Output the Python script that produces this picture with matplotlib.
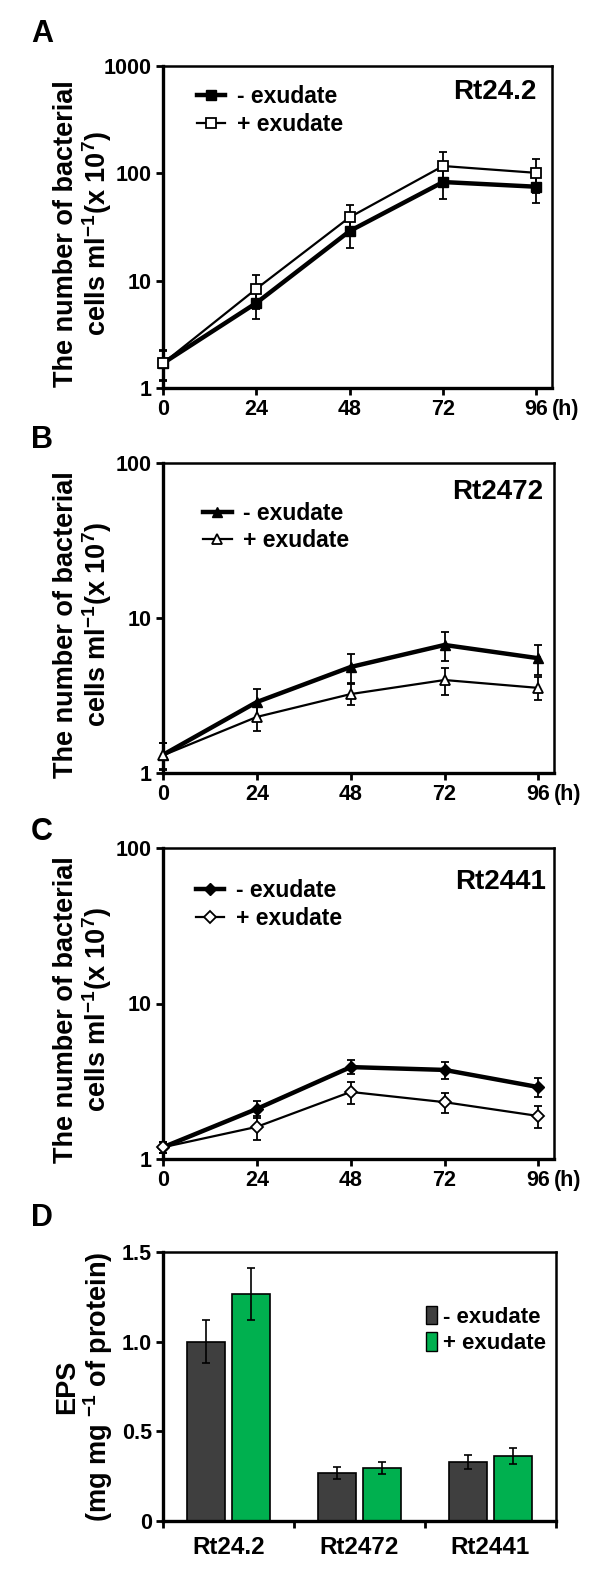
import numpy as np
import matplotlib
matplotlib.use("Agg")
import matplotlib.pyplot as plt
from matplotlib.patches import Patch
from matplotlib.ticker import NullLocator, FixedLocator

plt.rcParams['font.family'] = ['Liberation Sans', 'DejaVu Sans']
plt.rcParams['font.weight'] = 'bold'
plt.rcParams['mathtext.fontset'] = 'custom'
plt.rcParams['mathtext.rm'] = 'Liberation Sans:bold'
plt.rcParams['mathtext.bf'] = 'Liberation Sans:bold'
plt.rcParams['mathtext.default'] = 'bf'

# Χρόνοι μέτρησης (h)
hours = [0, 24, 48, 72, 96]
hour_labels = ['0', '24', '48', '72', '96']

# Rt24.2
rt242_minus = [1.7, 6.2, 29, 83, 75]
rt242_minus_err = [0.5, 1.8, 9, 25, 22]
rt242_plus = [1.7, 8.4, 39, 117, 101]
rt242_plus_err = [0.55, 2.9, 12, 41, 35]

# Rt2472
rt2472_minus = [1.31, 2.87, 4.83, 6.7, 5.5]
rt2472_minus_err = [0.25, 0.6, 1.0, 1.4, 1.2]
rt2472_plus = [1.3, 2.3, 3.23, 3.98, 3.54]
rt2472_plus_err = [0.25, 0.43, 0.5, 0.8, 0.6]

# Rt2441
rt2441_minus = [1.19, 2.1, 3.9, 3.74, 2.9]
rt2441_minus_err = [0.1, 0.27, 0.4, 0.45, 0.4]
rt2441_plus = [1.19, 1.61, 2.7, 2.32, 1.89]
rt2441_plus_err = [0.1, 0.28, 0.45, 0.34, 0.3]

# EPS
strains = ['Rt24.2', 'Rt2472', 'Rt2441']
eps_minus = [1.0, 0.268, 0.329]
eps_minus_err = [0.12, 0.033, 0.04]
eps_plus = [1.266, 0.296, 0.362]
eps_plus_err = [0.145, 0.034, 0.043]

ylab = 'The number of bacterial\ncells ml$^{-1}$(x 10$^{7}$)'
W, H = 600, 1576


def box(l, r, t, b):
    return [l / W, 1 - b / H, (r - l) / W, (b - t) / H]


def style_axes(ax):
    for s in ax.spines.values():
        s.set_linewidth(1.8)
    ax.spines['left'].set_linewidth(2.4)
    ax.spines['bottom'].set_linewidth(2.4)
    ax.tick_params(direction='out', length=5, width=2, labelsize=15.5, pad=3)


def growth_panel(ax, minus, minus_err, plus, plus_err, marker, ms, ymax, name,
                 name_xy, leg_xy):
    e1 = ax.errorbar(hours, minus, yerr=minus_err, color='black', lw=3.2,
                     marker=marker, ms=ms, mfc='black', mec='black',
                     capsize=3, elinewidth=1.3, capthick=1.3, clip_on=False, zorder=3)
    e2 = ax.errorbar(hours, plus, yerr=plus_err, color='black', lw=1.6,
                     marker=marker, ms=ms, mfc='white', mec='black', mew=1.3,
                     capsize=3, elinewidth=1.3, capthick=1.3, clip_on=False, zorder=4)
    ax.set_yscale('log')
    ax.set_ylim(1, ymax)
    ax.set_xlim(0, 100)
    ax.set_xticks(hours)
    ax.set_xticklabels(hour_labels)
    dec = [10 ** i for i in range(int(np.log10(ymax)) + 1)]
    ax.yaxis.set_major_locator(FixedLocator(dec))
    ax.yaxis.set_minor_locator(NullLocator())
    ax.set_yticklabels([str(d) for d in dec])
    style_axes(ax)
    ax.annotate('(h)', xy=(96, 0), xycoords=('data', 'axes fraction'),
                xytext=(11, -8), textcoords='offset points', ha='left', va='top',
                fontsize=15.5, fontweight='bold')
    ax.set_ylabel(ylab, fontsize=19.5, fontweight='bold', linespacing=1.05)
    ax.yaxis.set_label_coords(-0.125, 0.48)
    ax.text(name_xy[0], name_xy[1], name, transform=ax.transAxes, ha='right',
            va='center', fontsize=20, fontweight='bold')
    ax.legend([e1[0], e2[0]], ['- exudate', '+ exudate'], loc='upper left',
              bbox_to_anchor=leg_xy, frameon=False, fontsize=16.5,
              handlelength=1.25, handletextpad=0.5, labelspacing=0.2,
              borderpad=0, borderaxespad=0)


fig = plt.figure(figsize=(6, 15.76), dpi=100)

axA = fig.add_axes(box(163, 552, 66, 388))
growth_panel(axA, rt242_minus, rt242_minus_err, rt242_plus, rt242_plus_err,
             's', 7.5, 1000, 'Rt24.2', (0.961, 0.919), (0.087, 0.94))

axB = fig.add_axes(box(163, 554, 463, 773))
growth_panel(axB, rt2472_minus, rt2472_minus_err, rt2472_plus, rt2472_plus_err,
             '^', 7.5, 100, 'Rt2472', (0.972, 0.906), (0.102, 0.875))

axC = fig.add_axes(box(163, 554, 848, 1159))
growth_panel(axC, rt2441_minus, rt2441_minus_err, rt2441_plus, rt2441_plus_err,
             'D', 6, 100, 'Rt2441', (0.98, 0.89), (0.084, 0.9))

# Panel D: EPS
axD = fig.add_axes(box(163, 556, 1252, 1521))
x = np.arange(len(strains))
bw = 0.29
axD.bar(x - 0.175, eps_minus, bw, yerr=eps_minus_err, color='#3f3f3f',
        edgecolor='black', linewidth=1.2, capsize=3,
        error_kw=dict(elinewidth=1.2, capthick=1.2), zorder=2)
axD.bar(x + 0.175, eps_plus, bw, yerr=eps_plus_err, color='#00b04f',
        edgecolor='black', linewidth=1.2, capsize=3,
        error_kw=dict(elinewidth=1.2, capthick=1.2), zorder=2)
axD.set_xlim(-0.5, 2.5)
axD.set_ylim(0, 1.5)
axD.set_yticks([0, 0.5, 1.0, 1.5])
axD.set_yticklabels(['0', '0.5', '1.0', '1.5'])
axD.set_xticks(x)
axD.set_xticklabels(strains)
style_axes(axD)
axD.tick_params(axis='x', length=0, labelsize=17.5, pad=11)
axD.set_xticks([-0.5, 0.5, 1.5, 2.5], minor=True)
axD.tick_params(axis='x', which='minor', direction='out', length=5, width=2)
axD.set_ylabel('EPS\n(mg mg $^{-1}$ of protein)', fontsize=19.5,
               fontweight='bold', linespacing=1.05, multialignment='center')
axD.yaxis.set_label_coords(-0.122, 0.5)
axD.legend([Patch(facecolor='#3f3f3f', edgecolor='black'),
            Patch(facecolor='#00b04f', edgecolor='black')],
           ['- exudate', '+ exudate'], loc='upper left',
           bbox_to_anchor=(0.668, 0.8), frameon=False, fontsize=16,
           handlelength=0.5, handleheight=0.9, handletextpad=0.3,
           labelspacing=0.2, borderpad=0, borderaxespad=0)

# Γράμματα πάνελ
for lab, ypx in [('A', 34), ('B', 440), ('C', 832), ('D', 1218)]:
    fig.text(31 / W, 1 - ypx / H, lab, fontsize=22, fontweight='bold',
             va='center', ha='left')

fig.savefig('out.png', dpi=100)
